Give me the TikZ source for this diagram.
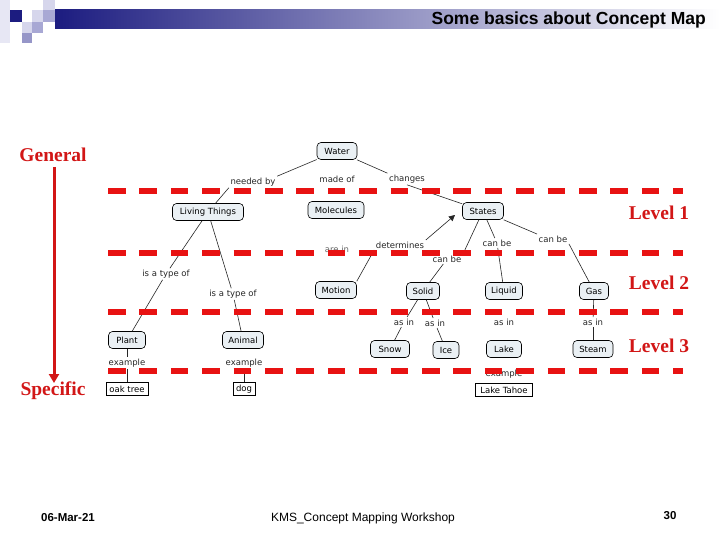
\documentclass[tikz,border=0pt]{standalone}
\usepackage{fontspec}
\usetikzlibrary{arrows.meta,positioning}
\newfontfamily\hdrfont{Liberation Sans}
\newfontfamily\lvlfont{Liberation Serif}
\newfontfamily\cmfont{DejaVu Sans}
\definecolor{navy}{RGB}{28,28,128}
\definecolor{lvlred}{RGB}{210,22,22}
\definecolor{dashred}{RGB}{232,18,18}
\definecolor{cfill}{RGB}{234,240,244}
\definecolor{sqA}{RGB}{214,214,236}
\definecolor{sqB}{RGB}{168,168,212}
\definecolor{sqC}{RGB}{150,150,200}
\tikzset{
  concept/.style={draw, rounded corners=4pt, fill=cfill, font=\cmfont\fontsize{8.5}{9}\selectfont, inner sep=0pt, minimum height=17pt, line width=0.6pt},
  leaf/.style={draw, rectangle, font=\cmfont\fontsize{8.5}{9}\selectfont, inner sep=0pt, minimum height=13pt, line width=0.6pt},
  linkph/.style={font=\cmfont\fontsize{8.5}{9}\selectfont, inner sep=1.5pt, text=black!85},
  conn/.style={line width=0.6pt, black!85},
  levelline/.style={dashred, line width=6pt, dash pattern=on 17.5pt off 13.9pt},
  levellbl/.style={font=\lvlfont\bfseries\fontsize{19.5}{20}\selectfont, text=lvlred, inner sep=0pt},
}
\begin{document}
\begin{tikzpicture}[x=1pt,y=-1pt]
\useasboundingbox (0,0) rectangle (720,540);
\fill[white] (0,0) rectangle (720,540);
% header decoration
\fill[sqA!60] (0,0) rectangle (10,43);
\shade[left color=navy, right color=white] (55,10) rectangle (720,29);
\fill[sqA] (43,0) rectangle (55,10);
\fill[navy] (10,10) rectangle (22,22);
\fill[sqA] (32,10) rectangle (43,22);
\fill[sqB] (43,10) rectangle (55,22);
\fill[sqA] (22,22) rectangle (32,33);
\fill[sqB] (32,22) rectangle (43,33);
\fill[sqC] (22,33) rectangle (32,43);
\node[anchor=east, font=\hdrfont\bfseries\fontsize{17.5}{19}\selectfont, inner sep=0pt] (title) at (706,20) {Some basics about Concept Map};

% level dashed lines
\coordinate (l1a) at (108,191); \coordinate (l1b) at (683,191);
\coordinate (l2a) at (108,253); \coordinate (l2b) at (683,253);
\coordinate (l3a) at (108,312); \coordinate (l3b) at (683,312);
\coordinate (l4a) at (108,371); \coordinate (l4b) at (683,371);

% concepts
\node[concept, minimum width=40pt] (water) at (337,151) {Water};
\node[concept, minimum width=71pt] (living) at (208,212) {Living Things};
\node[concept, minimum width=56pt] (molecules) at (336,210) {Molecules};
\node[concept, minimum width=41pt] (states) at (483,211) {States};
\node[concept, minimum width=41pt] (motion) at (336,290) {Motion};
\node[concept, minimum width=33pt] (solid) at (423,291) {Solid};
\node[concept, minimum width=37pt] (liquid) at (504,291) {Liquid};
\node[concept, minimum width=29pt] (gas) at (594,291) {Gas};
\node[concept, minimum width=39pt] (snow) at (390,349) {Snow};
\node[concept, minimum width=26pt] (ice) at (446,350) {Ice};
\node[concept, minimum width=35pt] (lake) at (504,349) {Lake};
\node[concept, minimum width=40pt] (steam) at (593,349) {Steam};
\node[concept, minimum width=37pt] (plant) at (127,340) {Plant};
\node[concept, minimum width=41pt] (animal) at (243,340) {Animal};
\node[leaf, minimum width=42pt] (oak) at (127,389) {oak tree};
\node[leaf, minimum width=22pt] (dog) at (244,389) {dog};
\node[leaf, minimum width=57pt] (tahoe) at (504,390) {Lake Tahoe};

% linking phrases
\node[linkph] (neededby) at (253,182) {needed by};
\node[linkph] (madeof) at (337,179) {made of};
\node[linkph] (changes) at (407,179) {changes};
\node[linkph, text=black!60] (arein) at (337,249) {are in};
\node[linkph] (determines) at (400,245) {determines};
\node[linkph] (canbeA) at (447,259) {can be};
\node[linkph] (canbeB) at (497,243) {can be};
\node[linkph] (canbeC) at (553,239) {can be};
\node[linkph] (typeA) at (166,274) {is a type of};
\node[linkph] (typeB) at (233,294) {is a type of};
\node[linkph] (asinA) at (404,322) {as in};
\node[linkph] (asinB) at (435,323) {as in};
\node[linkph] (asinC) at (504,322) {as in};
\node[linkph] (asinD) at (593,322) {as in};
\node[linkph] (exA) at (127,363) {example};
\node[linkph] (exB) at (244,363) {example};
\node[linkph] (exC) at (504,374) {example};

% connectors
\draw[conn] (water) -- (neededby.north east);
\draw[conn] (neededby.south west) -- (living);
\draw[conn] (water) -- (changes.north west);
\draw[conn] (changes.south) -- (states);
\draw[conn, -{Triangle[length=6pt,width=6pt]}] (determines.north east) -- (455,215);
\draw[conn] (motion.north east) -- (determines.south west);
\draw[conn] (states) -- (canbeA.north east);
\draw[conn] (canbeA) -- (solid);
\draw[conn] (states) -- (canbeB);
\draw[conn] (canbeB) -- (liquid);
\draw[conn] (states) -- (canbeC.north west);
\draw[conn] (canbeC.south east) -- (gas);
\draw[conn] (living) -- (typeA);
\draw[conn] (typeA) -- (plant);
\draw[conn] (living) -- (typeB);
\draw[conn] (typeB) -- (animal);
\draw[conn] (solid) -- (asinA);
\draw[conn] (asinA) -- (snow);
\draw[conn] (solid) -- (asinB);
\draw[conn] (asinB) -- (ice);
\draw[conn] (gas) -- (asinD);
\draw[conn] (asinD) -- (steam);
\draw[conn] (plant) -- (exA);
\draw[conn] (exA) -- (oak);
\draw[conn] (exB) -- (dog);

% dashed level lines (over the map)
\draw[levelline] (l1a) -- (l1b);
\draw[levelline] (l2a) -- (l2b);
\draw[levelline] (l3a) -- (l3b);
\draw[levelline] (l4a) -- (l4b);

% level labels
\node[levellbl] (lev1) at (659,213) {Level 1};
\node[levellbl] (lev2) at (659,283) {Level 2};
\node[levellbl] (lev3) at (659,346) {Level 3};
\node[levellbl] (general) at (53,155) {General};
\node[levellbl] (specific) at (53,391) {Specific};
\draw[lvlred, line width=3pt, -{Triangle[length=9pt,width=10pt]}] (54,167) -- (54,383);

% footer
\node[font=\hdrfont\bfseries\fontsize{11.5}{13}\selectfont, inner sep=0pt] (date) at (68,518) {06-Mar-21};
\node[font=\hdrfont\fontsize{12}{13}\selectfont, inner sep=0pt] (wk) at (363,518) {KMS\_Concept Mapping Workshop};
\node[font=\hdrfont\bfseries\fontsize{11.5}{13}\selectfont, inner sep=0pt] (pg) at (670,516) {30};
\end{tikzpicture}
\end{document}
